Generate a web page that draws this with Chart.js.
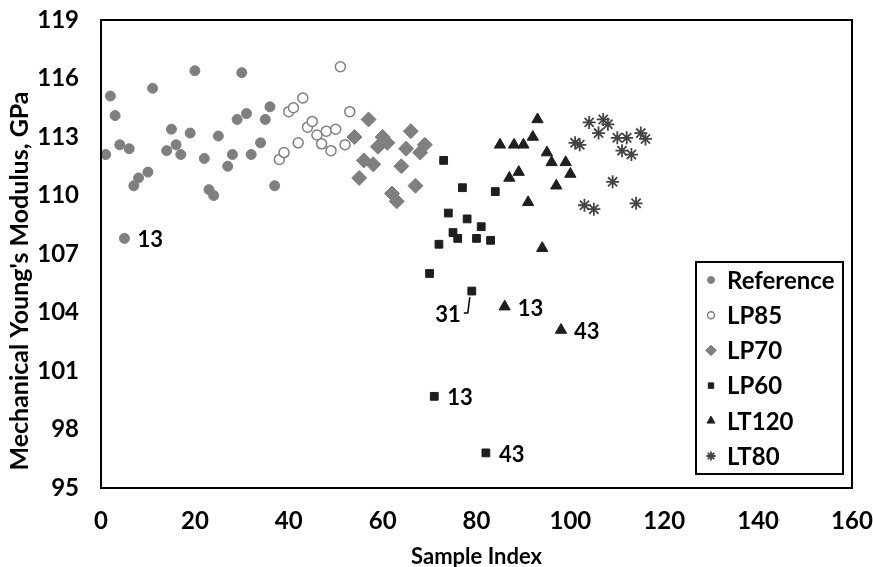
<!DOCTYPE html>
<html>
<head>
<meta charset="utf-8">
<script src="https://cdn.jsdelivr.net/npm/chart.js@4.4.0/dist/chart.umd.min.js"></script>
<style>
  html, body { margin: 0; padding: 0; background: #fff; }
  #wrap { width: 873px; height: 567px; }
</style>
</head>
<body>
<div id="wrap"><canvas id="chart"></canvas></div>
<script>
// ── DATA ──
const seriesNames = ['Reference', 'LP85', 'LP70', 'LP60', 'LT120', 'LT80'];

const refX = [1, 2, 3, 4, 5, 6, 7, 8, 10, 11, 14, 15, 16, 17, 19, 20, 22, 23, 24, 25, 27, 28, 29, 30, 31, 32, 34, 35, 36, 37];
const refY = [112.1, 115.1, 114.1, 112.6, 107.8, 112.4, 110.5, 110.9, 111.2, 115.5, 112.3, 113.4, 112.6, 112.1, 113.2, 116.4, 111.9, 110.3, 110.0, 113.05, 111.5, 112.1, 113.9, 116.3, 114.2, 112.1, 112.7, 113.9, 114.55, 110.5];

const lp85X = [38, 39, 40, 41, 42, 43, 44, 45, 46, 47, 48, 49, 50, 51, 52, 53];
const lp85Y = [111.85, 112.2, 114.3, 114.5, 112.7, 115.0, 113.5, 113.8, 113.1, 112.65, 113.3, 112.3, 113.4, 116.6, 112.6, 114.3];

const lp70X = [54, 55, 56, 57, 58, 59, 60, 61, 62, 63, 64, 65, 66, 67, 68, 69];
const lp70Y = [113.0, 110.9, 111.8, 113.9, 111.6, 112.5, 113.0, 112.7, 110.1, 109.7, 111.5, 112.4, 113.3, 110.5, 112.2, 112.6];

const lp60X = [70, 71, 72, 73, 74, 75, 76, 77, 78, 79, 80, 81, 82, 83, 84];
const lp60Y = [106.0, 99.7, 107.5, 111.8, 109.1, 108.1, 107.8, 110.4, 108.8, 105.1, 107.8, 108.4, 96.8, 107.7, 110.2];

const lt120X = [85, 86, 87, 88, 89, 90, 91, 92, 93, 94, 95, 96, 97, 98, 99, 100];
const lt120Y = [112.6, 104.3, 110.9, 112.6, 111.2, 112.6, 109.65, 113.0, 113.9, 107.3, 112.2, 111.7, 110.5, 103.1, 111.7, 111.1];

const lt80X = [101, 102, 103, 104, 105, 106, 107, 108, 109, 110, 111, 112, 113, 114, 115, 116];
const lt80Y = [112.7, 112.6, 109.5, 113.75, 109.3, 113.2, 113.9, 113.65, 110.7, 112.96, 112.3, 112.96, 112.1, 109.6, 113.2, 112.9];

// point labels: [series index, sample index, text]
const pointLabels = [
  [0, 5, '13'],
  [3, 79, '31'],
  [3, 71, '13'],
  [3, 82, '43'],
  [4, 86, '13'],
  [4, 98, '43'],
];

const xTicks = [0, 20, 40, 60, 80, 100, 120, 140, 160];
const yTicks = [95, 98, 101, 104, 107, 110, 113, 116, 119];
const yTitle = "Mechanical Young's Modulus, GPa";

// ── STYLES ──
const FONT = 'Lato, "Open Sans", sans-serif';
const GRAY = '#7f7f7f';
const DARK = '#1e1e1e';

const toPts = (xs, ys) => xs.map((x, i) => ({ x: x, y: ys[i] }));

const styles = [
  { pointStyle: 'circle',   radius: 5,   bg: GRAY,   border: GRAY, bw: 1 },
  { pointStyle: 'circle',   radius: 5,   bg: '#fff', border: GRAY, bw: 1.5 },
  { pointStyle: 'rectRot',  radius: 7.5, bg: GRAY,   border: GRAY, bw: 1 },
  { pointStyle: 'rect',     radius: 5.5, bg: DARK,   border: DARK, bw: 1 },
  { pointStyle: 'triangle', radius: 6.5, bg: DARK,   border: DARK, bw: 1 },
  { pointStyle: 'star',     radius: 6.5, bg: 'transparent', border: '#444', bw: 1.8 },
];

const allX = [refX, lp85X, lp70X, lp60X, lt120X, lt80X];
const allY = [refY, lp85Y, lp70Y, lp60Y, lt120Y, lt80Y];

const datasets = seriesNames.map((name, i) => ({
  label: name,
  data: toPts(allX[i], allY[i]),
  pointStyle: styles[i].pointStyle,
  pointRadius: styles[i].radius,
  backgroundColor: styles[i].bg,
  borderColor: styles[i].border,
  borderWidth: styles[i].bw,
}));

// ── PLUGINS ──
const framePlugin = {
  id: 'frame',
  afterDatasetsDraw(chart) {
    const { ctx, chartArea: a } = chart;
    ctx.save();
    ctx.strokeStyle = '#000';
    ctx.lineWidth = 2;
    ctx.strokeRect(a.left, a.top, a.right - a.left, a.bottom - a.top);
    // y axis title, sits a bit below the plot centre like the original
    ctx.translate(20, a.top + (a.bottom - a.top) / 2 + 27);
    ctx.rotate(-Math.PI / 2);
    ctx.font = 'bold 25px ' + FONT;
    ctx.fillStyle = '#000';
    ctx.textAlign = 'center';
    ctx.textBaseline = 'middle';
    ctx.fillText(yTitle, 0, 0);
    ctx.restore();
  }
};

const labelPlugin = {
  id: 'pointLabels',
  afterDatasetsDraw(chart) {
    const { ctx, scales: { x, y } } = chart;
    ctx.save();
    ctx.font = 'bold 22px ' + FONT;
    ctx.fillStyle = '#000';
    ctx.textBaseline = 'middle';
    pointLabels.forEach(([si, idx, text]) => {
      const k = allX[si].indexOf(idx);
      const px = x.getPixelForValue(allX[si][k]);
      const py = y.getPixelForValue(allY[si][k]);
      if (text === '31') {
        // leader line below-left of the point
        ctx.strokeStyle = '#000';
        ctx.lineWidth = 1.5;
        ctx.beginPath();
        ctx.moveTo(px - 2, py + 6);
        ctx.lineTo(px - 4, py + 22);
        ctx.lineTo(px - 8, py + 22);
        ctx.stroke();
        ctx.textAlign = 'right';
        ctx.fillText(text, px - 11, py + 24);
      } else {
        ctx.textAlign = 'left';
        ctx.fillText(text, px + 13, py + 2);
      }
    });
    ctx.restore();
  }
};

const legendPlugin = {
  id: 'boxLegend',
  afterDraw(chart) {
    const { ctx, chartArea: a } = chart;
    const boxL = a.right - 156, boxT = a.bottom - 226, boxW = 147, boxH = 212;
    ctx.save();
    ctx.fillStyle = '#fff';
    ctx.fillRect(boxL, boxT, boxW, boxH);
    ctx.strokeStyle = '#000';
    ctx.lineWidth = 2;
    ctx.strokeRect(boxL, boxT, boxW, boxH);
    ctx.font = 'bold 24px ' + FONT;
    ctx.textBaseline = 'middle';
    ctx.textAlign = 'left';
    seriesNames.forEach((name, i) => {
      const cy = boxT + 18 + i * 35.2;
      const s = styles[i];
      ctx.fillStyle = s.bg;
      ctx.strokeStyle = s.border;
      ctx.lineWidth = s.bw;
      Chart.helpers.drawPoint(ctx, { pointStyle: s.pointStyle, radius: s.radius * 0.7, borderWidth: s.bw }, boxL + 15, cy);
      ctx.fillStyle = '#000';
      ctx.fillText(name, boxL + 31, cy + 1);
    });
    ctx.restore();
  }
};

// ── CHART ──
new Chart(document.getElementById('chart').getContext('2d'), {
  type: 'scatter',
  data: { datasets },
  options: {
    responsive: true, maintainAspectRatio: false, animation: false,
    layout: { padding: { top: 20, right: 21, left: 0, bottom: 0 } },
    plugins: { legend: { display: false }, tooltip: { enabled: false } },
    scales: {
      x: {
        min: 0, max: 160,
        afterBuildTicks: (s) => { s.ticks = xTicks.map(v => ({ value: v })); },
        afterFit: (s) => { s.height = 79; s.paddingLeft = 0; s.paddingRight = 0; },
        grid: { display: false, drawTicks: false },
        border: { display: false },
        ticks: { padding: 19, color: '#000', font: { family: FONT, size: 24, weight: 'bold' }, maxRotation: 0 },
        title: { display: true, text: 'Sample Index', color: '#000', padding: { top: 0, bottom: -3 },
                 font: { family: FONT, size: 22, weight: 'bold' } }
      },
      y: {
        min: 95, max: 119,
        afterBuildTicks: (s) => { s.ticks = yTicks.map(v => ({ value: v })); },
        afterFit: (s) => { s.width = 101; s.paddingTop = 0; s.paddingBottom = 0; },
        grid: { display: false, drawTicks: false },
        border: { display: false },
        ticks: { padding: 22, color: '#000', font: { family: FONT, size: 24, weight: 'bold' } },
        title: { display: false }
      }
    }
  },
  plugins: [framePlugin, labelPlugin, legendPlugin]
});
</script>
</body>
</html>
